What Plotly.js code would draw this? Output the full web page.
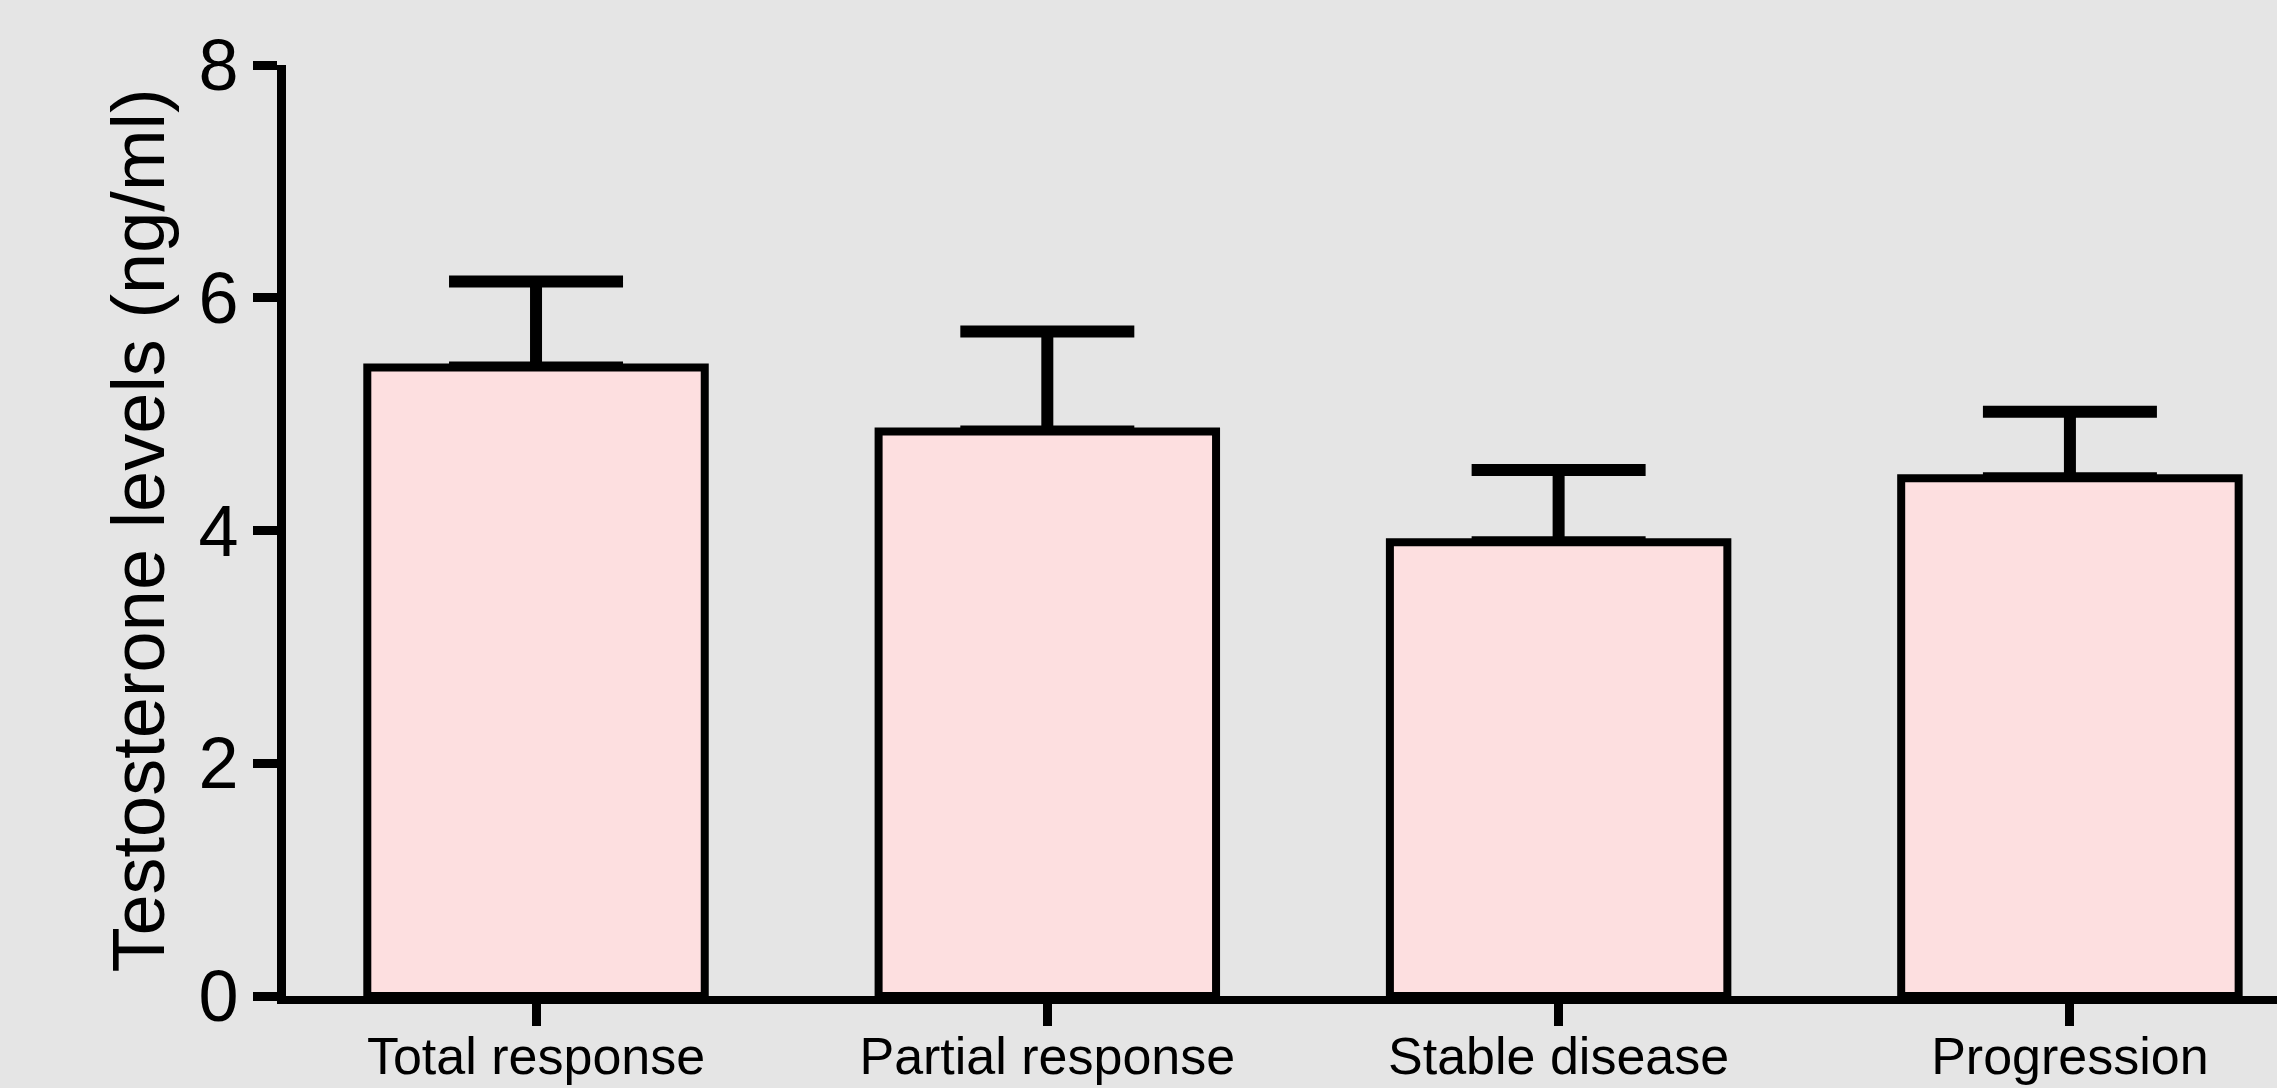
<!DOCTYPE html>
<html>
<head>
<meta charset="utf-8">
<script src="https://cdn.plot.ly/plotly-3.0.1.min.js"></script>
<style>
  html, body { margin: 0; padding: 0; background: #e5e5e5; }
  #chart { width: 2277px; height: 1088px; }
</style>
</head>
<body>
<div id="chart"></div>
<script>
// Data
const categories = ["Total response", "Partial response", "Stable disease", "Progression"];
const meanValues = [5.40, 4.85, 3.90, 4.45];
const errorUp = [0.74, 0.86, 0.62, 0.57];
const errorDown = [0, 0, 0, 0];
const yTickValues = [0, 2, 4, 6, 8];
const yTickLabels = ["0", "2", "4", "6", "8"];

const FONT = "'Liberation Sans', Arial, Helvetica, sans-serif";

// Error bars (drawn underneath, then the visible bars on top hide the lower cap)
const errorTrace = {
  type: "bar",
  x: categories,
  y: meanValues,
  width: 0.66,
  marker: { color: "rgba(0,0,0,0)", line: { width: 0 } },
  error_y: {
    type: "data",
    symmetric: false,
    array: errorUp,
    arrayminus: errorDown,
    visible: true,
    color: "#000000",
    thickness: 12,
    width: 87
  },
  hoverinfo: "skip"
};

const barTrace = {
  type: "bar",
  x: categories,
  y: meanValues,
  width: 0.66,
  marker: {
    color: "#fddfe0",
    line: { color: "#000000", width: 8 }
  },
  hoverinfo: "skip"
};

const layout = {
  width: 2277,
  height: 1088,
  paper_bgcolor: "#e5e5e5",
  plot_bgcolor: "#e5e5e5",
  showlegend: false,
  barmode: "overlay",
  margin: { l: 286, r: 0, t: 65, b: 92, pad: 0 },
  font: { family: FONT, color: "#000000" },
  xaxis: {
    type: "category",
    range: [-0.489, 3.405],
    showline: true,
    linecolor: "#000000",
    linewidth: 8,
    ticks: "outside",
    ticklen: 22,
    tickwidth: 9,
    tickcolor: "#000000",
    ticklabelstandoff: -14,
    tickfont: { family: FONT, size: 52, color: "#000000" },
    showgrid: false,
    zeroline: false,
    fixedrange: true
  },
  yaxis: {
    range: [0, 8],
    tickmode: "array",
    tickvals: yTickValues,
    ticktext: yTickLabels,
    showline: true,
    linecolor: "#000000",
    linewidth: 9,
    ticks: "outside",
    ticklen: 24,
    tickwidth: 9,
    tickcolor: "#000000",
    tickfont: { family: FONT, size: 72, color: "#000000" },
    showgrid: false,
    zeroline: false,
    fixedrange: true,
    title: {
      text: "Testosterone levels (ng/ml)",
      font: { family: FONT, size: 74, color: "#000000" },
      standoff: 13
    }
  }
};

Plotly.newPlot("chart", [errorTrace, barTrace], layout, { displayModeBar: false, staticPlot: true });
</script>
</body>
</html>
